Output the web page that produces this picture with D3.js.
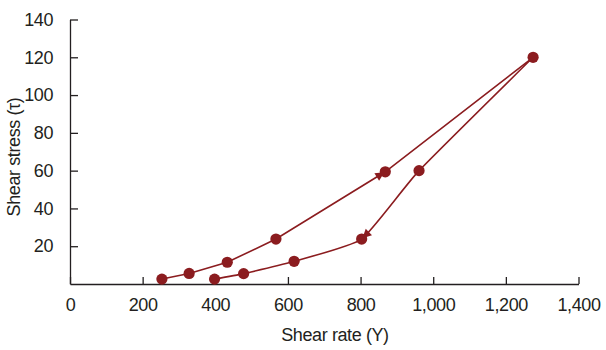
<!DOCTYPE html>
<html><head><meta charset="utf-8">
<script src="https://cdn.jsdelivr.net/npm/d3@7"></script>
<style>body{margin:0;background:#fff}svg{display:block}text{font-family:"Liberation Sans",Arial,sans-serif;fill:#231f20}</style>
</head><body>
<svg id="c" width="606" height="350"></svg>
<script>
// Up branch (increasing shear rate)
const upRate = [253, 328, 433, 567, 868, 1275];
const upStress = [2.6, 5.6, 11.5, 23.8, 59.4, 120];
// Down branch (decreasing shear rate)
const downRate = [1275, 961, 803, 617, 478, 398];
const downStress = [120, 60, 23.8, 12, 5.5, 2.6];
const xTicks = [0, 200, 400, 600, 800, 1000, 1200, 1400];
const yTicks = [20, 40, 60, 80, 100, 120, 140];
const xTitle = "Shear rate (Y)";
const yTitle = "Shear stress (\u03c4)";

const color = "#8b1c1f";
const ink = "#231f20";
const svg = d3.select("#c");
const x = d3.scaleLinear().domain([0, 1400]).range([70, 578.5]);
const y = d3.scaleLinear().domain([0, 140]).range([284, 19.5]);
const fmt = d3.format(",");

const xa = svg.append("g").attr("transform", "translate(0,284)")
  .call(d3.axisBottom(x).tickValues(xTicks).tickSizeInner(-7).tickSizeOuter(0).tickPadding(14).tickFormat(fmt));
const ya = svg.append("g").attr("transform", "translate(70,0)")
  .call(d3.axisLeft(y).tickValues(yTicks).tickSizeInner(-8).tickSizeOuter(0).tickPadding(17));
[xa, ya].forEach(g => {
  g.select(".domain").attr("stroke", ink).attr("stroke-width", 1.3);
  g.selectAll(".tick line").attr("stroke", ink).attr("stroke-width", 1.3);
  g.selectAll(".tick text").attr("fill", ink).style("font-size", "18px").style("letter-spacing", "-0.4px")
    .style("font-family", '"Liberation Sans",Arial,sans-serif');
});
xa.selectAll(".tick text").attr("dy", "0.71em");

svg.append("text").attr("x", 335).attr("y", 341).attr("text-anchor", "middle")
  .style("font-size", "18px").style("letter-spacing", "-0.4px").text(xTitle);
svg.append("text").attr("transform", "translate(20,157) rotate(-90)").attr("text-anchor", "middle")
  .style("font-size", "18px").style("letter-spacing", "-0.4px").text(yTitle);

const up = upRate.map((r, i) => [x(r), y(upStress[i])]);
const down = downRate.map((r, i) => [x(r), y(downStress[i])]);

svg.append("path").attr("d", d3.line()(up)).attr("fill", "none").attr("stroke", color).attr("stroke-width", 1.6);
const dp = svg.append("path").attr("d", d3.line().curve(d3.curveCardinal.tension(0.55))(down))
  .attr("fill", "none").attr("stroke", color).attr("stroke-width", 1.6);

function arrowAt(tip, from) {
  const ang = Math.atan2(tip[1] - from[1], tip[0] - from[0]) * 180 / Math.PI;
  svg.append("path").attr("d", "M-1,0 L-10,-4.5 L-10,4.5 Z").attr("fill", color)
    .attr("transform", `translate(${tip[0]},${tip[1]}) rotate(${ang})`);
}
arrowAt(up[4], up[3]);
// tangent on the down curve at the 803 point, approaching along the path
const node = dp.node(), total = node.getTotalLength();
let best = 0, bd = Infinity;
for (let L = 0; L <= total; L += 0.5) {
  const p = node.getPointAtLength(L);
  const d = (p.x - down[2][0]) ** 2 + (p.y - down[2][1]) ** 2;
  if (d < bd) { bd = d; best = L; }
}
const pf = node.getPointAtLength(Math.max(0, best - 8));
arrowAt(down[2], [pf.x, pf.y]);

svg.selectAll("circle.pt").data(up.concat(down.slice(1))).join("circle")
  .attr("cx", d => d[0]).attr("cy", d => d[1]).attr("r", 5.6).attr("fill", color);
</script>
</body></html>
